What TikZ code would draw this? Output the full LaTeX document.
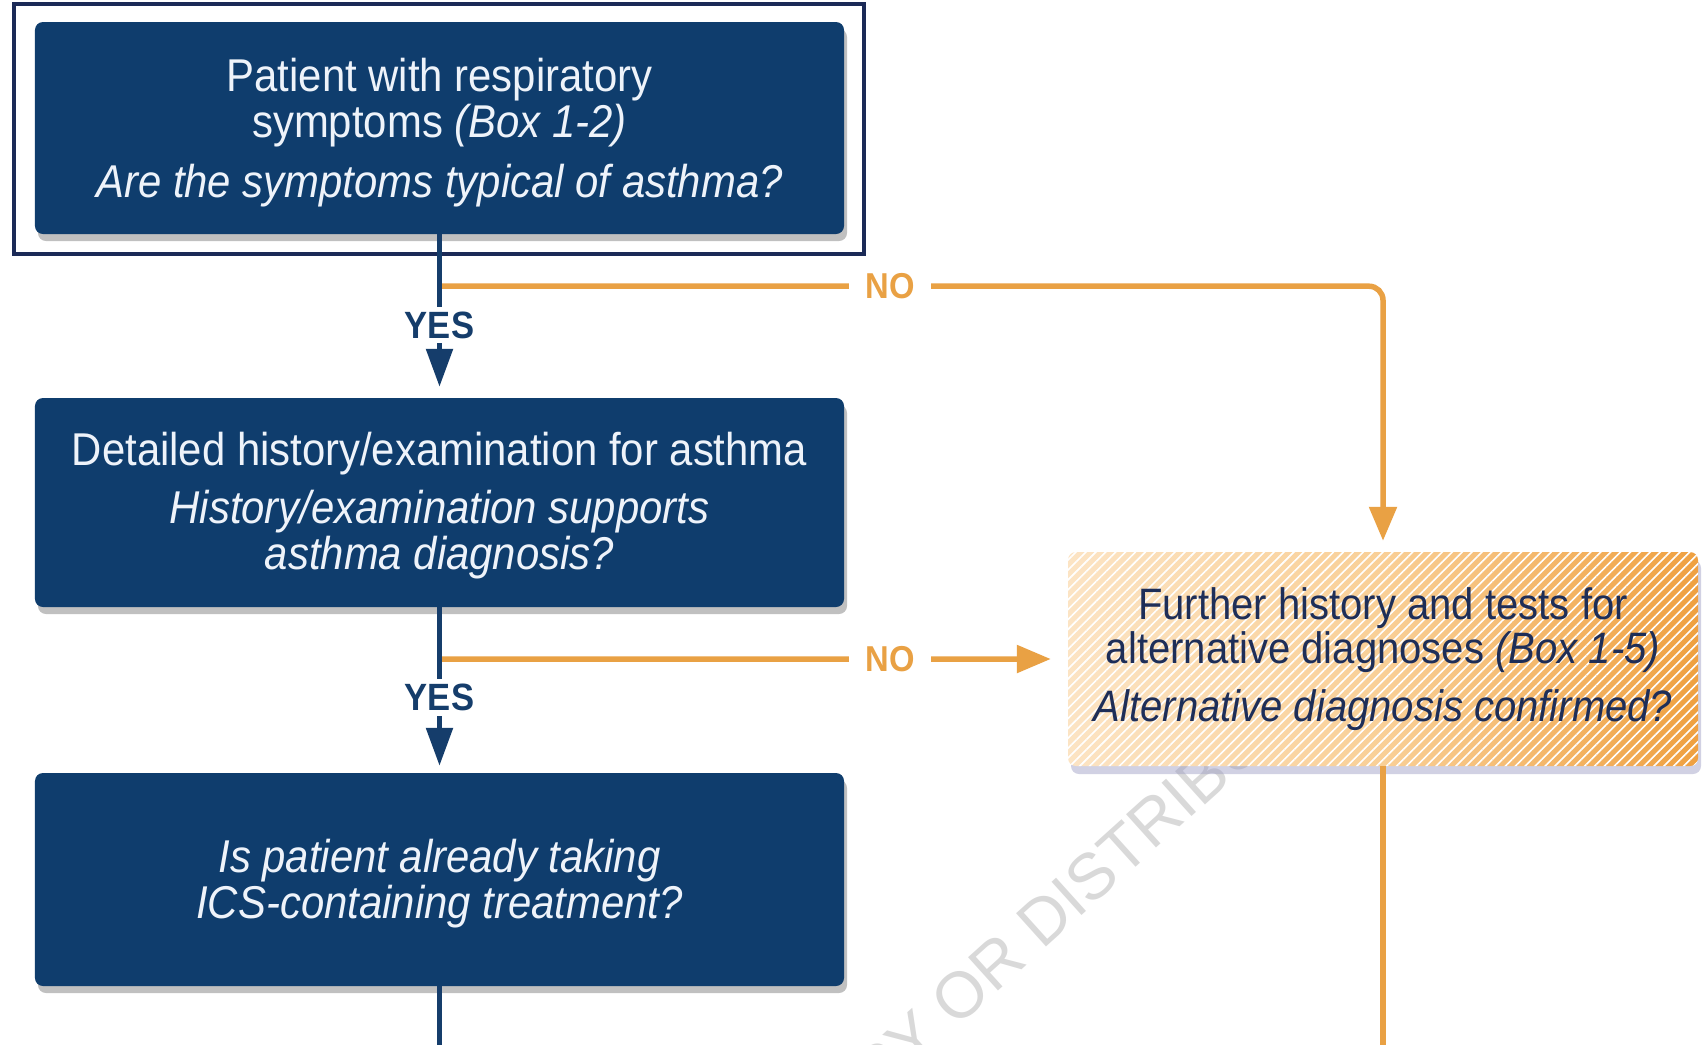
\documentclass[tikz,border=0pt]{standalone}
\usepackage{fontspec}
\newfontfamily\chartfont{Liberation Sans}[FakeStretch=0.91]
\newfontfamily\markfont{Liberation Sans}
\usetikzlibrary{arrows.meta,shadows,patterns.meta,calc}

\definecolor{boxnavy}{HTML}{0F3D6D}
\definecolor{framenavy}{HTML}{1B2A57}
\definecolor{linenavy}{HTML}{153D6B}
\definecolor{lineorange}{HTML}{E9A144}
\definecolor{peachL}{HTML}{FCE4C4}
\definecolor{peachM}{HTML}{F9CF96}
\definecolor{peachR}{HTML}{EFA040}
\definecolor{textnavy}{HTML}{1E2E58}
\definecolor{boxtext}{HTML}{EEF3FA}

\tikzset{
  navybox/.style={fill=boxnavy, rounded corners=8bp, inner sep=0pt,
    minimum width=809bp, minimum height=212bp,
    drop shadow={shadow xshift=3bp, shadow yshift=-7bp, opacity=.35, fill=black!70}},
  altbox/.style={left color=peachL, right color=peachR, middle color=peachM,
    rounded corners=8bp, inner sep=0pt, minimum width=630bp, minimum height=214bp,
    drop shadow={shadow xshift=3bp, shadow yshift=-8bp, opacity=.45, fill=black!60!blue!40}},
  boxtextstyle/.style={text=boxtext, align=center, inner sep=0pt,
    font=\chartfont\fontsize{46bp}{46bp}\selectfont},
  alttextstyle/.style={text=textnavy, align=center, inner sep=0pt,
    font=\chartfont\fontsize{44bp}{44bp}\selectfont},
  navyline/.style={draw=linenavy, line width=5.5bp},
  navyarrow/.style={navyline, -{Triangle[length=38bp,width=26bp]}},
  orangeline/.style={draw=lineorange, line width=5.5bp},
  orangearrow/.style={orangeline, -{Triangle[length=34bp,width=27bp]}},
  yeslabel/.style={fill=white, text=linenavy, inner xsep=4bp, inner ysep=5bp,
    font=\chartfont\bfseries\fontsize{38bp}{38bp}\selectfont},
  nolabel/.style={fill=white, text=lineorange, inner xsep=16bp, inner ysep=4bp,
    font=\chartfont\bfseries\fontsize{36bp}{36bp}\selectfont},
}

\begin{document}
\begin{tikzpicture}[x=1bp,y=-1bp]
\useasboundingbox (0,0) rectangle (1708,1044);
\fill[white] (0,0) rectangle (1708,1044);

% watermark behind everything
\node[rotate=42, anchor=base east, text=black!15, inner sep=0pt,
      font=\markfont\fontsize{65bp}{65bp}\selectfont] (mark) at (1330,692)
      {COPY OR DISTRIBUTE};

% boxes
\node[navybox] (b1) at (439.5,128) {};
\node[navybox, minimum height=209bp] (b2) at (439.5,502.5) {};
\node[navybox, minimum height=213bp] (b4) at (439.5,879.5) {};
\node[altbox] (b3) at (1383,659) {};
\path[pattern={Lines[angle=45,distance=7bp,line width=1.6bp]}, pattern color=white,
      fill opacity=.5, rounded corners=8bp] (b3.south west) rectangle (b3.north east);

% highlight frame round the first box
\draw[framenavy, line width=4.5bp]
  ($(b1.north west)+(-21,-18)$) rectangle ($(b1.south east)+(20,20)$);

% box texts
\node[boxtextstyle] (t1) at ([yshift=-5bp]b1.center)
  {Patient with respiratory\\symptoms \textit{(Box 1-2)}\\[14bp]\textit{Are the symptoms typical of asthma?}};
\node[boxtextstyle] (t2) at ([yshift=-3bp]b2.center)
  {Detailed history/examination for asthma\\[12bp]\textit{History/examination supports}\\\textit{asthma diagnosis?}};
\node[boxtextstyle] (t4) at ([yshift=-4bp]b4.center)
  {\textit{Is patient already taking}\\\textit{ICS-containing treatment?}};
\node[alttextstyle] (t3) at (b3.center)
  {Further history and tests for\\alternative diagnoses \textit{(Box 1-5)}\\[14bp]\textit{Alternative diagnosis confirmed?}};

% junction points on the vertical connectors and free ends at the page foot
\coordinate (j1) at ($(b1.south)+(0,52)$);
\coordinate (j2) at ($(b2.south)+(0,52)$);
\coordinate (e1) at ($(b4.south)+(0,80)$);
\coordinate (e2) at ($(b3.south)+(0,300)$);

% NO branches
\draw[orangearrow, rounded corners=14bp] (j1) -| ($(b3.north)+(0,-11)$);
\draw[orangearrow] (j2) -- ($(b3.west)+(-17,0)$);
\draw[orangeline] (b3.south) -- (e2);

% YES branches
\draw[navyarrow] (b1.south) -- ($(b2.north)+(0,-11)$)
  node[pos=0.595, yeslabel] (y1) {YES};
\draw[navyarrow] (b2.south) -- ($(b4.north)+(0,-7)$)
  node[pos=0.57, yeslabel] (y2) {YES};
\draw[navyline] (b4.south) -- (e1);

% NO labels
\node[nolabel] (n1) at (890,286) {NO};
\node[nolabel] (n2) at (890,659) {NO};
\end{tikzpicture}
\end{document}
